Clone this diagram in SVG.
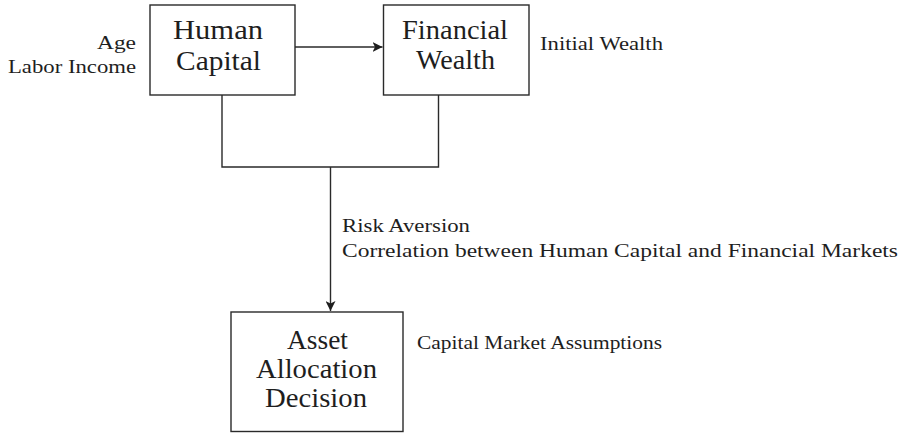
<svg xmlns="http://www.w3.org/2000/svg" width="906" height="433" viewBox="0 0 906 433">
<style>
.box{fill:#fff;stroke:#2a2a2a;stroke-width:1.4}
.ln{fill:none;stroke:#2a2a2a;stroke-width:1.4}
.t{font-family:"Liberation Serif","DejaVu Serif",serif;fill:#1e1e1e}
.big{font-size:27px;text-anchor:middle}
.sm{font-size:19px}
</style>
<defs>
<marker id="ah" viewBox="0 0 10 10" refX="10" refY="5" markerWidth="10" markerHeight="10" markerUnits="userSpaceOnUse" orient="auto">
<path d="M0,0 L10,5 L0,10 L2.5,5 Z" fill="#1e1e1e"/>
</marker>
</defs>
<g id="connectors">
<line class="ln" x1="295" y1="47" x2="382.5" y2="47" marker-end="url(#ah)"/>
<polyline class="ln" points="222,95 222,167 438.5,167 438.5,95"/>
<line class="ln" x1="330.5" y1="167" x2="330.5" y2="311" marker-end="url(#ah)"/>
</g>
<g id="human-capital">
<rect class="box" x="150" y="5" width="145" height="90"/>
<text class="t big" x="218" y="39" textLength="90" lengthAdjust="spacingAndGlyphs">Human</text>
<text class="t big" x="218.5" y="70" textLength="85" lengthAdjust="spacingAndGlyphs">Capital</text>
</g>
<g id="financial-wealth">
<rect class="box" x="383.5" y="5" width="145.5" height="90"/>
<text class="t big" x="455" y="39" textLength="106" lengthAdjust="spacingAndGlyphs">Financial</text>
<text class="t big" x="455.5" y="69" textLength="79" lengthAdjust="spacingAndGlyphs">Wealth</text>
</g>
<g id="asset-allocation">
<rect class="box" x="231" y="312" width="172" height="119.5"/>
<text class="t big" x="317.5" y="349" textLength="61" lengthAdjust="spacingAndGlyphs">Asset</text>
<text class="t big" x="316.5" y="378" textLength="121" lengthAdjust="spacingAndGlyphs">Allocation</text>
<text class="t big" x="316" y="407" textLength="102" lengthAdjust="spacingAndGlyphs">Decision</text>
</g>
<g id="labels">
<text class="t sm" x="136" y="49" text-anchor="end" textLength="39" lengthAdjust="spacingAndGlyphs">Age</text>
<text class="t sm" x="136" y="73" text-anchor="end" textLength="128" lengthAdjust="spacingAndGlyphs">Labor Income</text>
<text class="t sm" x="540" y="50" textLength="123" lengthAdjust="spacingAndGlyphs">Initial Wealth</text>
<text class="t sm" x="342" y="232" textLength="128" lengthAdjust="spacingAndGlyphs">Risk Aversion</text>
<text class="t sm" x="342" y="257" textLength="556" lengthAdjust="spacingAndGlyphs">Correlation between Human Capital and Financial Markets</text>
<text class="t sm" x="417" y="349" textLength="245" lengthAdjust="spacingAndGlyphs">Capital Market Assumptions</text>
</g>
</svg>
